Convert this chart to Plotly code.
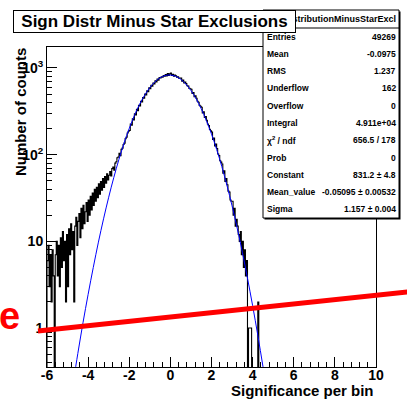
import plotly.graph_objects as go

# ---------------- data ----------------
hist_start = -6.0
bin_width = 0.05
counts = [
    6, 9, 3, 7, 2, 8, 4, 0, 7, 10,
    4, 9, 3, 11, 5, 13, 6, 10, 2, 12,
    3, 14, 7, 16, 8, 13, 2, 15, 19, 9,
    17, 21, 11, 24, 14, 26, 16, 22, 28, 17,
    30, 20, 33, 23, 36, 26, 40, 29, 42, 32,
    46, 35, 49, 39, 53, 42, 56, 47, 60, 51,
    58, 64, 57, 69, 72, 66, 80, 83, 92, 94,
    104, 97, 115, 119, 131, 136, 153, 159, 178, 186,
    190, 226, 219, 259, 252,
    296, 288, 333, 322, 372,
    365, 412, 406, 456, 449,
    502, 490, 545, 532, 590,
    578, 632, 615, 671, 655,
    712, 688, 744, 724, 777,
    768, 790, 785, 820, 806,
    840, 808, 862, 818, 855,
    872, 822, 846, 806, 830,
    812, 785, 790, 760, 766,
    763, 706, 724, 670, 690,
    660, 625, 618, 582, 575,
    568, 510, 522, 466, 478,
    448, 414, 402, 370, 362,
    352, 303, 313, 268, 276,
    249, 226, 217, 196, 189,
    182, 150, 156, 126, 133,
    118, 102, 98, 85, 82,
    78, 61, 65, 49, 53,
    45, 38, 37, 30, 29,
    29, 20, 24, 15, 18,
    15, 12, 10, 13, 7,
    10, 5, 8, 4, 6,
    0, 1, 1, 1, 0,
    0, 0, 0, 0, 0,
    2, 0, 0, 0, 0,
]
hist_end = 10.0

fit_x = [-4.75, -4.5, -4.25, -4.0, -3.75, -3.5, -3.25, -3.0, -2.75, -2.5,
         -2.25, -2.0, -1.75, -1.5, -1.25, -1.0, -0.75, -0.5, -0.25, 0.0,
         0.25, 0.5, 0.75, 1.0, 1.25, 1.5, 1.75, 2.0, 2.25, 2.5,
         2.75, 3.0, 3.25, 3.5, 3.75, 4.0, 4.25, 4.5, 4.75]
fit_y = [0.218, 0.51, 1.15, 2.45, 5.0, 9.8, 18.2, 32.3, 54.7, 88.5,
         136.6, 201, 283, 380, 486, 594, 692, 771, 819, 830,
         803, 742, 654, 550, 442, 338.6, 247.5, 172.8, 115, 73.1,
         44.4, 25.7, 14.2, 7.5, 3.77, 1.81, 0.83, 0.363, 0.152]

x_tickvals = [-6, -4, -2, 0, 2, 4, 6, 8, 10]
x_ticktext = ["-6", "-4", "-2", "0", "2", "4", "6", "8", "10"]
y_tickvals = [1, 10, 100, 1000]
y_ticktext = ["1", "10", "10<sup>2</sup>", "10<sup>3</sup>"]

title_text = "Sign Distr Minus Star Exclusions"
hist_name = "SignDistributionMinusStarExcl"
x_title = "Significance per bin"
y_title = "Number of counts"
stat_labels = ["Entries", "Mean", "RMS", "Underflow", "Overflow", "Integral",
               "\u03c7<sup>2</sup> / ndf", "Prob", "Constant", "Mean_value", "Sigma"]
stat_values = ["49269", "-0.0975", "1.237", "162", "0", "4.911e+04",
               "656.5 / 178", "0", "831.2 \u00b1 4.8",
               "-0.05095 \u00b1 0.00532", "1.157 \u00b1 0.004"]
overlay_letter = "e"

# ---------------- layout helpers ----------------
W, H = 407, 399
L, R, T, B = 47, 376, 47, 367
FONT = "Liberation Sans, Arial, Helvetica, sans-serif"


def px(x):
    return (x - L) / (R - L)


def py(y):
    return (B - y) / (B - T)


floor = 1e-3
edges = [hist_start + i * bin_width for i in range(len(counts) + 1)]
hx = [hist_start] + edges[:-1] + [edges[-1], hist_end]
hy = [floor] + [c if c > 0 else floor for c in counts] + [floor, floor]

fig = go.Figure()
fig.add_trace(go.Scatter(x=hx, y=hy, mode="lines", line=dict(color="black", width=1.1, shape="hv"),
                         hoverinfo="skip", showlegend=False))
fig.add_trace(go.Scatter(x=fit_x, y=fit_y, mode="lines",
                         line=dict(color="rgb(0,0,255)", width=1, shape="spline"),
                         hoverinfo="skip", showlegend=False))

minor_y = [k * 10 ** e for e in range(-1, 4) for k in range(2, 10)]

fig.update_layout(
    width=W, height=H,
    margin=dict(l=L, r=W - R, t=T, b=H - B, pad=0),
    paper_bgcolor="white", plot_bgcolor="white",
    showlegend=False,
    font=dict(family=FONT, color="black"),
    xaxis=dict(range=[-6, 10], tickmode="array", tickvals=x_tickvals, ticktext=x_ticktext,
               ticks="inside", ticklen=10, tickwidth=1, tickcolor="black",
               ticklabelstandoff=-5,
               showline=True, linecolor="black", linewidth=1, mirror=True,
               showgrid=False, zeroline=False,
               tickfont=dict(family=FONT, size=14, weight="bold", color="black"),
               minor=dict(tick0=-6, dtick=0.4, ticks="inside", ticklen=5, tickcolor="black",
                          showgrid=False)),
    yaxis=dict(type="log", range=[-0.449, 3.242], tickmode="array", tickvals=y_tickvals,
               ticktext=y_ticktext, ticks="inside", ticklen=10, tickwidth=1, tickcolor="black",
               showline=True, linecolor="black", linewidth=1, mirror=True,
               showgrid=False, zeroline=False,
               tickfont=dict(family=FONT, size=14, weight="bold", color="black"),
               minor=dict(tickmode="array", tickvals=minor_y, ticks="inside", ticklen=5,
                          tickcolor="black", showgrid=False)),
)

shapes = []
# stats box shadow + box
shapes.append(dict(type="rect", xref="paper", yref="paper", x0=px(264.5), x1=px(400.5), y0=py(11.5), y1=py(219.5),
                   fillcolor="black", line=dict(width=0), layer="above"))
shapes.append(dict(type="rect", xref="paper", yref="paper", x0=px(263), x1=px(399), y0=py(10), y1=py(218),
                   fillcolor="white", line=dict(color="black", width=1), layer="above"))
shapes.append(dict(type="line", xref="paper", yref="paper", x0=px(263), x1=px(399), y0=py(28), y1=py(28),
                   line=dict(color="black", width=1), layer="above"))
# red overlay line
shapes.append(dict(type="line", xref="paper", yref="paper", x0=px(38), y0=py(331), x1=px(408), y1=py(292),
                   line=dict(color="rgb(255,0,0)", width=5), layer="above"))
fig.update_layout(shapes=shapes)

ann = []
# header name (partly covered by the title box)
ann.append(dict(text="<b>" + hist_name + "</b>", xref="paper", yref="paper", x=px(398), y=py(19),
                xanchor="right", yanchor="middle", showarrow=False,
                font=dict(family=FONT, size=9, color="black")))
# stats rows
row_h = (218 - 28) / len(stat_labels)
for i, (lab, val) in enumerate(zip(stat_labels, stat_values)):
    yc = 28 + row_h * (i + 0.5)
    ann.append(dict(text="<b>" + lab + "</b>", xref="paper", yref="paper", x=px(265), y=py(yc),
                    xanchor="left", yanchor="middle", showarrow=False,
                    font=dict(family=FONT, size=8.5, color="black")))
    ann.append(dict(text="<b>" + val + "</b>", xref="paper", yref="paper", x=px(398), y=py(yc),
                    xanchor="right", yanchor="middle", showarrow=False,
                    font=dict(family=FONT, size=8.5, color="black")))
# title box
ann.append(dict(text="<b>" + title_text + "</b>", xref="paper", yref="paper", x=px(154.5), y=py(21.5),
                xanchor="center", yanchor="middle", showarrow=False, width=281, height=21,
                bgcolor="white", bordercolor="black", borderwidth=1, borderpad=0,
                font=dict(family=FONT, size=17, color="black")))
# axis titles
ann.append(dict(text="<b>" + x_title + "</b>", xref="paper", yref="paper", x=px(376), y=py(390),
                xanchor="right", yanchor="middle", showarrow=False,
                font=dict(family=FONT, size=15, color="black")))
ann.append(dict(text="<b>" + y_title + "</b>", xref="paper", yref="paper", x=px(20), y=py(112),
                xanchor="center", yanchor="middle", showarrow=False, textangle=-90,
                font=dict(family=FONT, size=15, color="black")))
# red overlay letter
ann.append(dict(text="<b>" + overlay_letter + "</b>", xref="paper", yref="paper", x=px(9), y=py(316),
                xanchor="center", yanchor="middle", showarrow=False,
                font=dict(family=FONT, size=38, color="rgb(255,0,0)")))
fig.update_layout(annotations=ann)

fig.write_html("out.html")
